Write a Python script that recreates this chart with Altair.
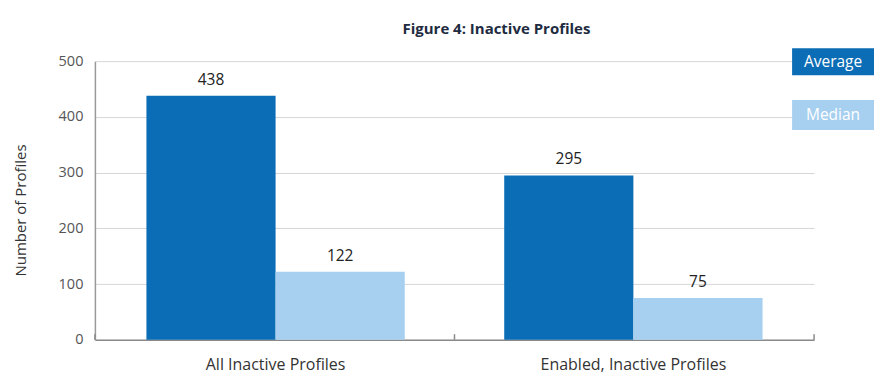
import altair as alt
import pandas as pd

categories = ["All Inactive Profiles", "Enabled, Inactive Profiles"]
series = ["Average", "Median"]
average = [438, 295]
median = [122, 75]
axis_ticks = [0, 1, 2]
colors = ["#0b6db5", "#a6cff0"]

rows = []
for i, c in enumerate(categories):
    rows.append({"category": c, "series": "Average", "value": average[i]})
    rows.append({"category": c, "series": "Median", "value": median[i]})
df = pd.DataFrame(rows)
tick_df = pd.DataFrame({"pos": axis_ticks})

FONT = "Open Sans"

y_enc = alt.Y(
    "value:Q",
    scale=alt.Scale(domain=[0, 500], nice=False),
    axis=alt.Axis(
        values=[0, 100, 200, 300, 400, 500],
        title="Number of Profiles",
        titleFont=FONT, titleFontSize=15, titleFontWeight="normal",
        titleColor="#333333", titlePadding=30, titleY=149,
        labelFont=FONT, labelFontSize=14.5, labelColor="#555555",
        labelPadding=12, ticks=False,
        domain=True, domainColor="#999999", domainWidth=1.5,
        grid=True, gridColor="#d6d6d6", gridWidth=1,
    ),
)

x_enc = alt.X(
    "category:N", sort=categories,
    scale=alt.Scale(paddingInner=0.278, paddingOuter=0.144),
    axis=alt.Axis(
        orient="bottom", title=None, labelAngle=0, ticks=False,
        domain=True, domainColor="#8a8a8a", domainWidth=1.5,
        labelFont=FONT, labelFontSize=16, labelColor="#333333",
        labelPadding=17, grid=False, labelLimit=0,
    ),
)
xo_enc = alt.XOffset("series:N", sort=series,
                     scale=alt.Scale(paddingInner=0, paddingOuter=0))
color_enc = alt.Color("series:N", scale=alt.Scale(domain=series, range=colors),
                      legend=None)

bars = alt.Chart(df).mark_bar().encode(
    x=x_enc, xOffset=xo_enc, y=y_enc, color=color_enc
)
labels = alt.Chart(df).mark_text(
    dy=-8, baseline="bottom", font=FONT, fontSize=15.5, color="#222222"
).encode(
    x=x_enc, xOffset=xo_enc, y=alt.Y("value:Q"), text=alt.Text("value:Q")
)
base = alt.layer(bars, labels)

ticks = alt.Chart(tick_df).mark_rule(color="#8a8a8a", strokeWidth=1.5).encode(
    x=alt.X("pos:Q", scale=alt.Scale(domain=[0, 2], nice=False),
            axis=None),
    y=alt.datum(0),
    y2=alt.datum(10),
)

leg_avg_box = alt.Chart(pd.DataFrame({"s": ["Average"]})).mark_rect(
    color=colors[0]
).encode(x=alt.value(698), x2=alt.value(780), y=alt.value(-13), y2=alt.value(14))
leg_avg_txt = alt.Chart(pd.DataFrame({"s": ["Average"]})).mark_text(
    color="white", font=FONT, fontSize=15.5, align="center", baseline="middle"
).encode(x=alt.value(739), y=alt.value(0.5), text="s:N")
leg_med_box = alt.Chart(pd.DataFrame({"s": ["Median"]})).mark_rect(
    color=colors[1]
).encode(x=alt.value(698), x2=alt.value(780), y=alt.value(39), y2=alt.value(69))
leg_med_txt = alt.Chart(pd.DataFrame({"s": ["Median"]})).mark_text(
    color="white", font=FONT, fontSize=15.5, align="center", baseline="middle"
).encode(x=alt.value(739), y=alt.value(54), text="s:N")

chart = alt.layer(
    base, ticks, leg_avg_box, leg_avg_txt, leg_med_box, leg_med_txt
).resolve_scale(x="independent").properties(
    width=720, height=279,
    autosize=alt.AutoSizeParams(type="none"),
    padding={"left": 87, "top": 53, "right": 62, "bottom": 34},
    title=alt.TitleParams(
        "Figure 4: Inactive Profiles", anchor="middle", frame="group",
        dx=42, offset=11, font=FONT, fontSize=15, fontWeight="bold",
        color="#1e2b40",
    ),
).configure_view(stroke=None).configure_axis(labelFont=FONT)

chart.save("out.html", embed_options={"renderer": "svg", "actions": False})
